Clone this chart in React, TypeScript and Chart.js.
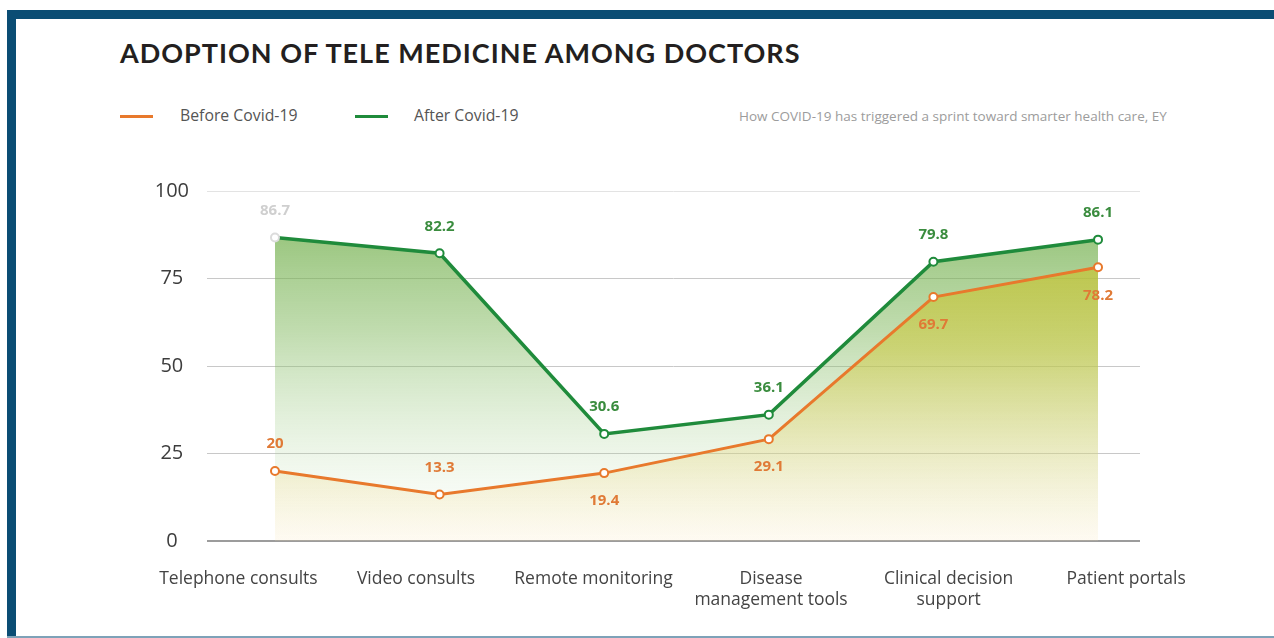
import React, { useEffect, useRef } from "react";
import { Chart, registerables } from "chart.js";

Chart.register(...registerables);

// ---------- data ----------
const categories = [
  "Telephone consults",
  "Video consults",
  "Remote monitoring",
  "Disease management tools",
  "Clinical decision support",
  "Patient portals",
];
const categoryLines = [
  ["Telephone consults"],
  ["Video consults"],
  ["Remote monitoring"],
  ["Disease", "management tools"],
  ["Clinical decision", "support"],
  ["Patient portals"],
];
const beforeCovid = [20, 13.3, 19.4, 29.1, 69.7, 78.2];
const afterCovid = [86.7, 82.2, 30.6, 36.1, 79.8, 86.1];
const yTickValues = [0, 25, 50, 75, 100];
const beforeLabelSide = ["above", "above", "below", "below", "below", "below"];
const afterLabelSide = ["above", "above", "above", "above", "above", "above"];

// ---------- style ----------
const ORANGE = "#e8792c";
const ORANGE_TEXT = "#e07a36";
const GREEN = "#1f8b3b";
const GREEN_TEXT = "#3a8c3e";
const NAVY = "#0b4d74";

const valueLabels = {
  id: "valueLabels",
  afterDatasetsDraw(chart: any) {
    const ctx = chart.ctx;
    chart.data.datasets.forEach((ds: any, di: number) => {
      const meta = chart.getDatasetMeta(di);
      meta.data.forEach((pt: any, i: number) => {
        const v = ds.data[i].y;
        ctx.save();
        ctx.font = "700 15px 'Open Sans'";
        ctx.fillStyle = ds.labelColors[i];
        ctx.textAlign = "center";
        ctx.textBaseline = "middle";
        const dy = ds.labelSides[i] === "above" ? -27 : 28;
        ctx.fillText(String(v), pt.x, pt.y + dy);
        ctx.restore();
      });
    });
  },
};

function gradientFill(stops: [number, string][]) {
  return (context: any) => {
    const chart = context.chart;
    const area = chart.chartArea;
    if (!area) return "rgba(0,0,0,0)";
    const g = chart.ctx.createLinearGradient(0, area.top, 0, area.bottom);
    stops.forEach(([o, c]) => g.addColorStop(o, c));
    return g;
  };
}

export default function App() {
  const ref = useRef<HTMLCanvasElement | null>(null);

  useEffect(() => {
    const canvas = ref.current;
    if (!canvas) return;
    const chart = new Chart(canvas, {
      type: "line",
      data: {
        datasets: [
          {
            label: "Before Covid-19",
            data: beforeCovid.map((v, i) => ({ x: i, y: v })),
            borderColor: ORANGE,
            borderWidth: 3,
            pointRadius: 4,
            pointBorderWidth: 2,
            pointBackgroundColor: "#ffffff",
            pointBorderColor: ORANGE,
            fill: "origin",
            backgroundColor: gradientFill([
              [0, "rgba(196,190,30,0.75)"],
              [0.45, "rgba(205,200,60,0.55)"],
              [1, "rgba(250,225,170,0.15)"],
            ]),
            tension: 0,
            xAxisID: "x",
            labelSides: beforeLabelSide,
            labelColors: beforeCovid.map(() => ORANGE_TEXT),
          } as any,
          {
            label: "After Covid-19",
            data: afterCovid.map((v, i) => ({ x: i, y: v })),
            borderColor: GREEN,
            borderWidth: 3.5,
            pointRadius: 4,
            pointBorderWidth: 2,
            pointBackgroundColor: "#ffffff",
            pointBorderColor: afterCovid.map((_, i) => (i === 0 ? "#dcdcdc" : GREEN)),
            fill: "origin",
            backgroundColor: gradientFill([
              [0, "rgba(105,170,65,0.8)"],
              [0.4, "rgba(130,185,95,0.5)"],
              [1, "rgba(200,230,190,0.0)"],
            ]),
            tension: 0,
            xAxisID: "x",
            labelSides: afterLabelSide,
            labelColors: afterCovid.map((_, i) => (i === 0 ? "#cfcfcf" : GREEN_TEXT)),
          } as any,
        ],
      },
      options: {
        responsive: false,
        animation: false,
        layout: { padding: { left: 150, top: 191, right: 134, bottom: 0 } },
        plugins: {
          legend: { display: false },
          tooltip: { enabled: false },
          filler: { drawTime: "beforeDatasetsDraw" } as any,
        },
        scales: {
          x: {
            type: "linear",
            display: false,
            min: -0.413,
            max: 5.255,
          },
          xl: {
            type: "linear",
            position: "bottom",
            min: -0.177,
            max: 5.078,
            afterBuildTicks: (scale: any) => {
              scale.ticks = categories.map((_, i) => ({ value: i }));
            },
            afterFit: (scale: any) => {
              scale.height = 97;
            },
            grid: { display: false, drawTicks: false },
            border: { display: false },
            ticks: {
              autoSkip: false,
              maxRotation: 0,
              padding: 28,
              color: "#444444",
              font: { family: "'Open Sans'", size: 17.5, lineHeight: 1.2 },
              callback: (v: any) => categoryLines[Number(v)] as any,
            },
          },
          y: {
            min: 0,
            max: 100,
            afterBuildTicks: (scale: any) => {
              scale.ticks = yTickValues.map((v) => ({ value: v }));
            },
            afterFit: (scale: any) => {
              scale.width = 57;
            },
            border: { display: false },
            grid: {
              drawTicks: false,
              color: (c: any) =>
                c.tick.value === 0 ? "#9c9c9c" : c.tick.value === 100 ? "#e3e3e3" : "#c8c8c8",
              lineWidth: (c: any) => (c.tick.value === 0 ? 2 : 1),
            },
            ticks: {
              padding: 18,
              crossAlign: "center",
              color: "#3d3d3d",
              font: { family: "'Open Sans'", size: 20 },
            },
          },
        },
      },
      plugins: [valueLabels],
    });
    return () => chart.destroy();
  }, []);

  const text: React.CSSProperties = {
    position: "absolute",
    whiteSpace: "nowrap",
    fontFamily: "'Open Sans', sans-serif",
  };

  return (
    <div
      style={{
        position: "fixed",
        left: 0,
        top: 0,
        width: 1274,
        height: 638,
        background: "#ffffff",
        overflow: "hidden",
      }}
    >
      <div style={{ position: "absolute", left: 7, top: 10, width: 1267, height: 9, background: NAVY }} />
      <div style={{ position: "absolute", left: 7, top: 10, width: 9, height: 628, background: NAVY }} />
      <div style={{ position: "absolute", left: 7, top: 636, width: 1267, height: 2, background: "#7ea2b8" }} />

      <div
        style={{
          ...text,
          left: 120,
          top: 39,
          fontFamily: "Lato, sans-serif",
          fontWeight: 700,
          fontSize: 27,
          letterSpacing: "1px",
          lineHeight: "27px",
          color: "#231f20",
        }}
      >
        ADOPTION OF TELE MEDICINE AMONG DOCTORS
      </div>

      <div style={{ position: "absolute", left: 120, top: 115, width: 33, height: 3, background: ORANGE }} />
      <div style={{ ...text, left: 180, top: 105, fontSize: 15.8, lineHeight: "20px", color: "#555555" }}>
        Before Covid-19
      </div>
      <div style={{ position: "absolute", left: 355, top: 115, width: 33, height: 3, background: GREEN }} />
      <div style={{ ...text, left: 414, top: 105, fontSize: 15.8, lineHeight: "20px", color: "#555555" }}>
        After Covid-19
      </div>
      <div style={{ ...text, left: 739, top: 108, fontSize: 13.5, lineHeight: "16px", color: "#9c9c9c" }}>
        How COVID-19 has triggered a sprint toward smarter health care, EY
      </div>

      <canvas
        ref={ref}
        width={1274}
        height={638}
        style={{ position: "absolute", left: 0, top: 0, width: 1274, height: 638 }}
      />
    </div>
  );
}
